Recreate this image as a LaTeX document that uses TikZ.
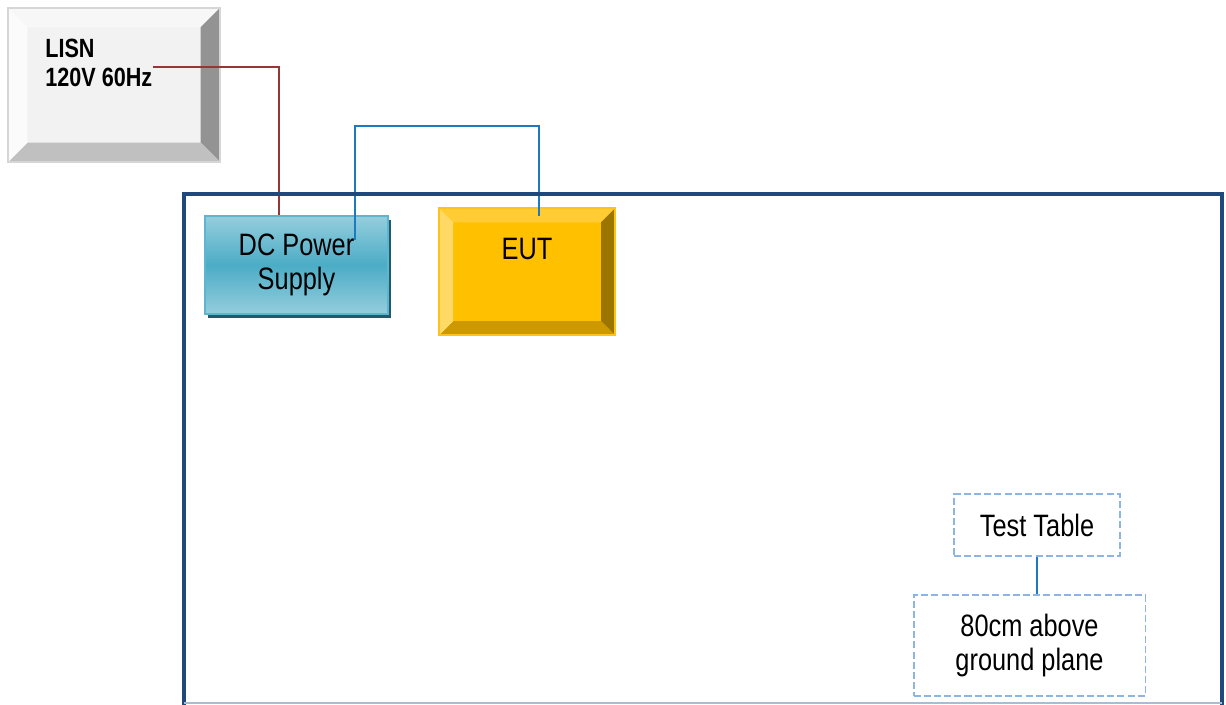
\documentclass[tikz,border=0pt]{standalone}
\usepackage{fontspec}
\setmainfont{Liberation Sans}[FakeStretch=0.82]
\usetikzlibrary{positioning, shadows}

\definecolor{lisnface}{HTML}{F2F2F2}
\definecolor{lisntop}{HTML}{F7F7F7}
\definecolor{lisnright}{HTML}{939393}
\definecolor{lisnbottom}{HTML}{C0C0C0}
\definecolor{lisnleft}{HTML}{FBFBFB}
\definecolor{lisnborder}{HTML}{D6D6D6}
\definecolor{dcmid}{HTML}{4BACC6}
\definecolor{dclight}{HTML}{95CEDD}
\definecolor{dcborder}{HTML}{5DB6CD}
\definecolor{dcshadow}{HTML}{215A68}
\definecolor{eutface}{HTML}{FFC000}
\definecolor{euttop}{HTML}{FFCD33}
\definecolor{eutright}{HTML}{9C7400}
\definecolor{eutbottom}{HTML}{CC9A00}
\definecolor{eutleft}{HTML}{FFD966}
\definecolor{eutborder}{HTML}{FFC21A}
\definecolor{framecolor}{HTML}{1F497D}
\definecolor{framebase}{HTML}{A9BCD2}
\definecolor{powerred}{HTML}{953735}
\definecolor{signalblue}{HTML}{1B7AC2}
\definecolor{notedash}{HTML}{8DB4E2}

% bevel faces inside a node: depth, top, right, bottom, left
\newcommand{\bevelfill}[5]{%
  \fill[#2] (path picture bounding box.north west) -- (path picture bounding box.north east)
    -- ([shift={(-#1,-#1)}]path picture bounding box.north east)
    -- ([shift={(#1,-#1)}]path picture bounding box.north west) -- cycle;
  \fill[#3] (path picture bounding box.north east) -- (path picture bounding box.south east)
    -- ([shift={(-#1,#1)}]path picture bounding box.south east)
    -- ([shift={(-#1,-#1)}]path picture bounding box.north east) -- cycle;
  \fill[#4] (path picture bounding box.south east) -- (path picture bounding box.south west)
    -- ([shift={(#1,#1)}]path picture bounding box.south west)
    -- ([shift={(-#1,#1)}]path picture bounding box.south east) -- cycle;
  \fill[#5] (path picture bounding box.south west) -- (path picture bounding box.north west)
    -- ([shift={(#1,-#1)}]path picture bounding box.north west)
    -- ([shift={(#1,#1)}]path picture bounding box.south west) -- cycle;
}

\begin{document}
\begin{tikzpicture}[
    x=0.02cm, y=-0.02cm,
    boxtext/.style={font=\fontsize{17.6}{19.8}\selectfont, align=center, inner sep=0pt},
    lisntext/.style={font=\bfseries\fontsize{15}{16.4}\selectfont, align=left, inner sep=0pt},
    lisnbox/.style={draw=lisnborder, fill=lisnface, line width=1.2pt,
        minimum width=4.24cm, minimum height=3.08cm,
        path picture={\bevelfill{11pt}{lisntop}{lisnright}{lisnbottom}{lisnleft}}},
    dcbox/.style={boxtext, draw=dcborder, line width=1.2pt,
        top color=dclight, bottom color=dclight, middle color=dcmid,
        minimum width=3.66cm, minimum height=1.96cm,
        drop shadow={shadow xshift=1.6pt, shadow yshift=-2.2pt, fill=dcshadow, opacity=1}},
    eutbox/.style={boxtext, draw=eutborder, fill=eutface, line width=1.2pt,
        minimum width=3.52cm, minimum height=2.54cm, text depth=0.92cm,
        path picture={\bevelfill{8pt}{euttop}{eutright}{eutbottom}{eutleft}}},
    notebox/.style={boxtext, draw=notedash, dash pattern=on 4pt off 1.8pt, line width=1.1pt},
    powerline/.style={draw=powerred, line width=1.2pt},
    signalline/.style={draw=signalblue, line width=1.2pt}
]
    \useasboundingbox (0,0) rectangle (1226,705);

    % Define equipment nodes
    \node[lisnbox] (lisn) at (114,85) {};
    \node[lisntext, anchor=north west] (lisnlabel) at (45,39) {LISN\\120V 60Hz};
    \node[dcbox] (dcps) at (296.5,265) {DC Power\\Supply};
    \node[eutbox, right=0.98cm of dcps, yshift=-0.135cm] (eut) {EUT};

    % Define table notes
    \node[notebox, minimum width=3.32cm, minimum height=1.24cm] (testtable) at (1037,525) {Test Table};
    \node[notebox, minimum width=4.64cm, minimum height=2.02cm,
        below=0.74cm of testtable, xshift=-0.15cm] (tableheight) {80cm above\\ground plane};

    % Cable ends inside the boxes
    \coordinate (lisnout) at (153,67);
    \coordinate (dcout) at (355,240);
    \coordinate (eutin) at (539,216);

    % Draw cables
    \draw[powerline] (lisnout) -| (dcps.north -| 279,0);
    \draw[signalline] (dcout) |- (eutin |- 0,126) -- (eutin);
    \draw[signalline] (testtable.south) -- (testtable.south |- tableheight.north);

    % Table outline
    \draw[framecolor, line width=2.1pt] (184,712) -- (184,194) -- (1222,194) -- (1222,712);
    \draw[framebase, line width=0.8pt] (184,703) -- (1222,703);
\end{tikzpicture}
\end{document}
